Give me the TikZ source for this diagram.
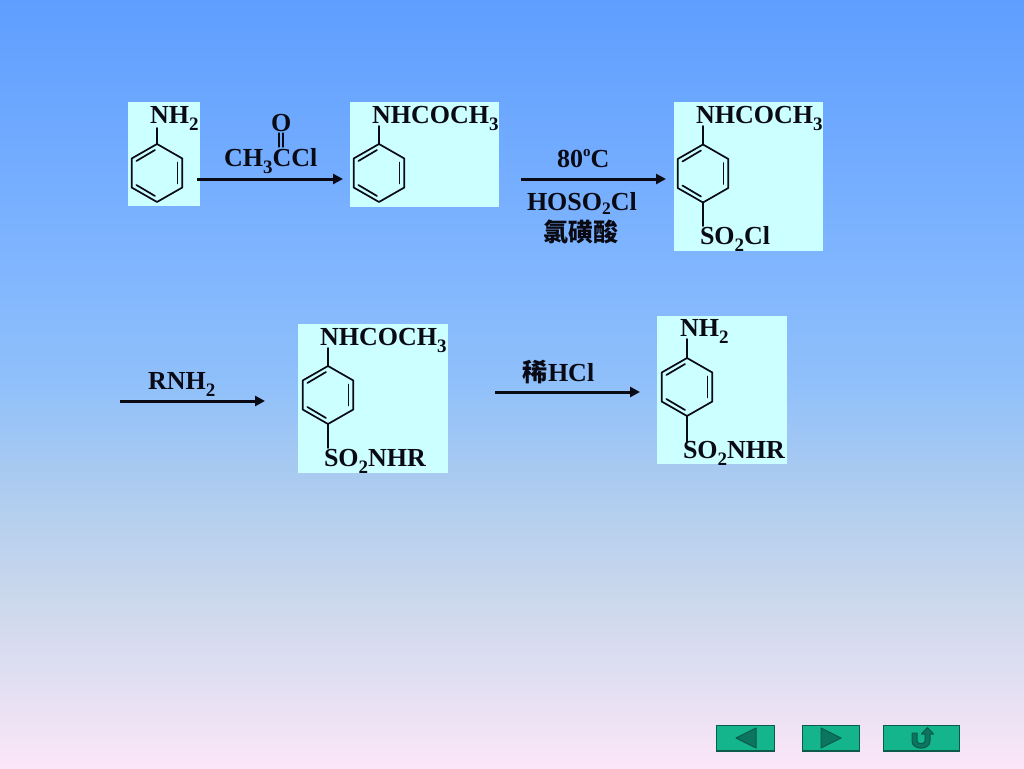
\documentclass[tikz,border=0pt]{standalone}
\usepackage{fontspec}
\setmainfont{Liberation Serif}
\newfontfamily\cjkfont{Noto Sans CJK SC}
\usetikzlibrary{arrows.meta}
\definecolor{inkc}{HTML}{0A0A14}
\definecolor{boxc}{HTML}{CCFFFF}
\definecolor{btnc}{HTML}{14B48C}
\definecolor{btnedge}{HTML}{0B5A4A}
\definecolor{btnicon}{HTML}{0B7560}
\definecolor{bgA}{HTML}{5F9EFF}
\definecolor{bgB}{HTML}{7FB5FF}
\definecolor{bgC}{HTML}{90C0FA}
\definecolor{bgD}{HTML}{ABCBF0}
\definecolor{bgF}{HTML}{CBD8EC}
\definecolor{bgE}{HTML}{FBE6F8}
% the node is fitted to the 25bp..75bp band of the shading
\pgfdeclareverticalshading{bgshade}{100bp}{
  color(0bp)=(bgE);
  color(25bp)=(bgE);
  color(36bp)=(bgF);
  color(43.75bp)=(bgD);
  color(50bp)=(bgC);
  color(58.3bp)=(bgB);
  color(75bp)=(bgA);
  color(100bp)=(bgA)}
\newcommand{\sbs}[1]{\raisebox{-0.3em}{\fontsize{19}{20}\selectfont #1}}
\newcommand{\sbt}[1]{\raisebox{-0.16em}{\fontsize{17.5}{20}\selectfont #1}}
\newcommand{\sps}[1]{\raisebox{0.42em}{\fontsize{15}{15}\selectfont #1}}
\tikzset{
  x=1pt,y=-1pt,
  lbl/.style={anchor=base west,inner sep=0pt,outer sep=0pt,text=inkc,font=\fontsize{26}{28}\selectfont\bfseries},
  cjk/.style={anchor=base west,inner sep=0pt,outer sep=0pt,text=inkc,font=\fontsize{25}{28}\selectfont\cjkfont\bfseries},
  panel/.style={fill=boxc,draw=none},
  bond/.style={draw=inkc,line width=1.7pt,line cap=round,line join=round},
  rxn/.style={draw=inkc,line width=3pt,-{Triangle[length=10pt,width=10pt]}},
  btn/.style={fill=btnc,draw=btnedge,line width=1.2pt},
  icon/.style={fill=btnicon,draw=btnedge,line width=1pt,line join=round}
}
% ring: #1 name, #2 centre x, #3 centre y
\newcommand{\ring}[3]{%
  \coordinate (#1t) at (#2,#3-29);
  \coordinate (#1tr) at (#2+25.3,#3-14.5);
  \coordinate (#1br) at (#2+25.3,#3+14.5);
  \coordinate (#1b) at (#2,#3+29);
  \coordinate (#1bl) at (#2-25.3,#3+14.5);
  \coordinate (#1tl) at (#2-25.3,#3-14.5);
  \draw[bond] (#1t) -- (#1tr) -- (#1br) -- (#1b) -- (#1bl) -- (#1tl) -- cycle;
  \draw[bond] (#2-20.6,#3-12) -- (#2-2,#3-23);
  \draw[bond] (#2+20.6,#3-10.5) -- (#2+20.6,#3+10.5);
  \draw[bond] (#2-20.6,#3+12) -- (#2-2,#3+23);
}
\begin{document}
\begin{tikzpicture}
\useasboundingbox (0,0) rectangle (1024,768);
\node[inner sep=0pt,outer sep=0pt,minimum width=1024pt,minimum height=768pt,anchor=north west,shading=bgshade] (bg) at (0,0) {};

% panels
\fill[panel] (128,102) rectangle (200,206);
\fill[panel] (350,102) rectangle (499,207);
\fill[panel] (674,102) rectangle (823,251);
\fill[panel] (298,324) rectangle (448,473);
\fill[panel] (657,316) rectangle (787,464);

% rings
\ring{a}{157}{173}
\ring{b}{379}{173}
\ring{c}{703}{173.5}
\ring{d}{328}{395}
\ring{e}{687}{387}

% substituent ends
\coordinate (a1) at (157,128);
\coordinate (b1) at (379,126);
\coordinate (c1) at (703,126);
\coordinate (c2) at (703,226);
\coordinate (d1) at (328,348);
\coordinate (d2) at (328,448);
\coordinate (e1) at (687,339);
\coordinate (e2) at (687,442);
\draw[bond] (a1) -- (at);
\draw[bond] (b1) -- (bt);
\draw[bond] (c1) -- (ct);
\draw[bond] (cb) -- (c2);
\draw[bond] (d1) -- (dt);
\draw[bond] (db) -- (d2);
\draw[bond] (e1) -- (et);
\draw[bond] (eb) -- (e2);

% formula labels
\node[lbl] (t1) at (150,123) {NH\sbs{2}};
\node[lbl] (t2) at (372,123) {NHCOCH\sbs{3}};
\node[lbl] (t3) at (696,123) {NHCOCH\sbs{3}};
\node[lbl] (t4) at (700,244) {SO\sbs{2}Cl};
\node[lbl] (t5) at (320,345) {NHCOCH\sbs{3}};
\node[lbl] (t6) at (324,466) {SO\sbs{2}NHR};
\node[lbl] (t7) at (680,336) {NH\sbs{2}};
\node[lbl] (t8) at (683,458) {SO\sbs{2}NHR};

% reagents
\node[lbl] (oxy) at (271,131) {O};
\node[lbl] (acyl) at (224,166) {CH\sbs{3}CCl};
\coordinate (o1) at (279,133);
\coordinate (o2) at (279,147);
\coordinate (o3) at (283,133);
\coordinate (o4) at (283,147);
\draw[bond,line width=1.2pt] (o1) -- (o2);
\draw[bond,line width=1.2pt] (o3) -- (o4);
\node[lbl] (temp) at (557,167) {80\sps{o}C};
\node[lbl] (acid) at (527,210) {HOSO\sbt{2}Cl};
\node[cjk] (acidname) at (543,241.5) {氯磺酸};
\node[lbl] (amine) at (148,389) {RNH\sbs{2}};
\node[cjk] (dil) at (522,381) {稀};
\node[lbl] (hcl) at (548,381) {HCl};

% reaction arrows
\coordinate (r1a) at (197,179);
\coordinate (r1b) at (343,179);
\coordinate (r2a) at (521,179);
\coordinate (r2b) at (666,179);
\coordinate (r3a) at (120,401);
\coordinate (r3b) at (265,401);
\coordinate (r4a) at (495,392);
\coordinate (r4b) at (640,392);
\draw[rxn] (r1a) -- (r1b);
\draw[rxn] (r2a) -- (r2b);
\draw[rxn] (r3a) -- (r3b);
\draw[rxn] (r4a) -- (r4b);

% nav buttons
\draw[btn] (716.5,725.5) rectangle (774.5,751);
\draw[btn] (802.5,725.5) rectangle (859.5,751);
\draw[btn] (883.5,725.5) rectangle (959.5,751);
\draw[icon] (736,738) -- (756,728) -- (756,748) -- cycle;
\draw[icon] (841,738) -- (821,728) -- (821,748) -- cycle;
\draw[icon] (912,733) -- (917,733) -- (917,741)
  .. controls (917,744.5) and (925,744.5) .. (925,741) -- (925,734) -- (921.5,734) -- (927.5,727.5) -- (933.5,734) -- (930,734)
  -- (930,741) .. controls (930,750.5) and (912,750.5) .. (912,741) -- cycle;
\end{tikzpicture}
\end{document}
